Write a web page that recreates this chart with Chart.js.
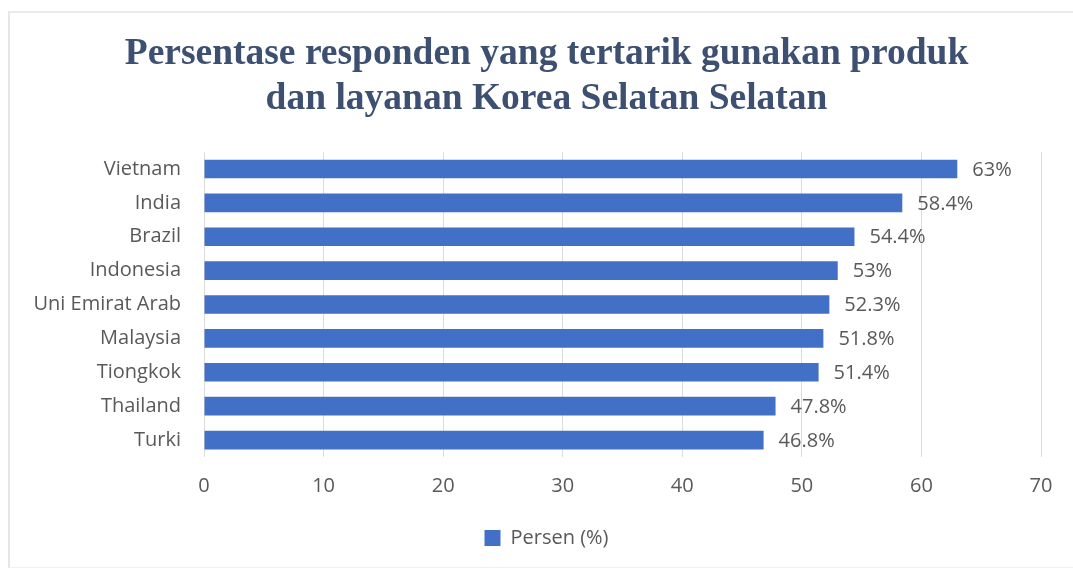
<!DOCTYPE html>
<html lang="id">
<head>
    <meta charset="UTF-8">
    <title>Persentase responden</title>
    <script src="https://cdn.jsdelivr.net/npm/chart.js"></script>
    <style>
        html, body { margin: 0; padding: 0; background: #fff; overflow: hidden; }
        .frame {
            position: absolute;
            left: 8px; top: 11px; width: 1080px; height: 554px;
            border-left: 2px solid #e6e6e6;
            border-top: 2px solid #ebebeb;
            border-bottom: 1px solid #f0f0f0;
        }
        .chart-box { position: absolute; left: 0; top: 0; width: 1073px; height: 569px; }
    </style>
</head>
<body>
    <div class="frame"></div>
    <div class="chart-box">
        <canvas id="koreaChart"></canvas>
    </div>
    <script>
        // data
        const countries = ["Vietnam", "India", "Brazil", "Indonesia", "Uni Emirat Arab", "Malaysia", "Tiongkok", "Thailand", "Turki"];
        const persen = [63, 58.4, 54.4, 53, 52.3, 51.8, 51.4, 47.8, 46.8];
        const valueLabels = ["63%", "58.4%", "54.4%", "53%", "52.3%", "51.8%", "51.4%", "47.8%", "46.8%"];
        const xTicks = [0, 10, 20, 30, 40, 50, 60, 70];
        const seriesName = "Persen (%)";
        const titleLines = ["Persentase responden yang tertarik gunakan produk", "dan layanan Korea Selatan Selatan"];

        const labelFont = "'Open Sans', 'Noto Sans', sans-serif";
        const greyText = "#595959";
        const barBlue = "#4270c6";
        const textSize = 20;

        // draws the value next to each bar
        const barValues = {
            id: "barValues",
            afterDatasetsDraw(chart) {
                const ctx = chart.ctx;
                const meta = chart.getDatasetMeta(0);
                ctx.save();
                ctx.font = textSize + "px " + labelFont;
                ctx.fillStyle = greyText;
                ctx.textAlign = "left";
                ctx.textBaseline = "middle";
                meta.data.forEach((bar, i) => {
                    ctx.fillText(valueLabels[i], bar.x + 15, bar.y + 1);
                });
                ctx.restore();
            }
        };

        Chart.defaults.font.family = labelFont;
        Chart.defaults.color = greyText;

        new Chart(document.getElementById("koreaChart").getContext("2d"), {
            type: "bar",
            data: {
                labels: countries,
                datasets: [{
                    label: seriesName,
                    data: persen,
                    backgroundColor: barBlue,
                    borderWidth: 0,
                    categoryPercentage: 1,
                    barPercentage: 0.55
                }]
            },
            options: {
                indexAxis: "y",
                responsive: true,
                maintainAspectRatio: false,
                animation: false,
                layout: { padding: { left: 20, right: 0, top: 22, bottom: 11 } },
                plugins: {
                    title: {
                        display: true,
                        text: titleLines,
                        color: "#3d5071",
                        font: { family: "'Liberation Serif', 'Times New Roman', serif", size: 37.5, weight: "bold", lineHeight: 1.2 },
                        padding: { top: 10, bottom: 30 }
                    },
                    legend: {
                        position: "bottom",
                        labels: {
                            boxWidth: 16,
                            boxHeight: 16,
                            font: { size: textSize },
                            color: greyText,
                            padding: 14
                        }
                    },
                    tooltip: { enabled: false }
                },
                scales: {
                    x: {
                        min: 0,
                        max: 70,
                        afterBuildTicks(scale) {
                            scale.ticks = xTicks.map(v => ({ value: v }));
                        },
                        afterFit(scale) { scale.height = 57; },
                        grid: { color: "#dcdcdc", drawTicks: false },
                        border: { display: false },
                        ticks: { font: { size: textSize }, color: greyText, padding: 17 }
                    },
                    y: {
                        afterFit(scale) { scale.width = 184; },
                        grid: { display: false },
                        border: { display: false },
                        ticks: { font: { size: textSize }, color: greyText, padding: 15 }
                    },
                    // empty right axis, only keeps room on the right side
                    yRight: {
                        type: "category",
                        position: "right",
                        afterFit(scale) { scale.width = 32; },
                        grid: { display: false },
                        border: { display: false },
                        ticks: { display: false }
                    }
                }
            },
            plugins: [barValues]
        });
    </script>
</body>
</html>
